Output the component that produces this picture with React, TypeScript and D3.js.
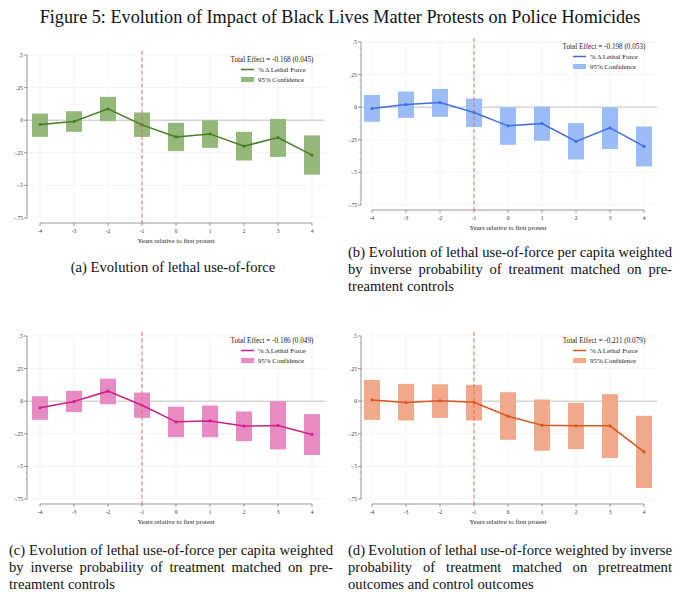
import React, { useEffect, useRef } from 'react';
import * as d3 from 'd3';

// event time
const years = [-4, -3, -2, -1, 0, 1, 2, 3, 4];
const yTicks = [0.5, 0.25, 0, -0.25, -0.5, -0.75];
const yTickLabels = ['.5', '.25', '0', '-.25', '-.5', '-.75'];

// (a) lethal use-of-force
const aCoef = [-0.033, -0.010, 0.087, -0.036, -0.128, -0.105, -0.199, -0.133, -0.268];
const aLo = [-0.128, -0.089, -0.008, -0.128, -0.237, -0.212, -0.309, -0.281, -0.418];
const aHi = [0.051, 0.069, 0.179, 0.059, -0.020, 0.000, -0.089, 0.010, -0.117];

// (b) per capita, IPW matched on pretreatment controls
const bCoef = [-0.010, 0.020, 0.036, -0.041, -0.143, -0.125, -0.263, -0.158, -0.301];
const bLo = [-0.112, -0.082, -0.074, -0.153, -0.288, -0.258, -0.401, -0.321, -0.454];
const bHi = [0.094, 0.120, 0.140, 0.066, 0.000, 0.005, -0.122, 0.000, -0.148];

// (c) per capita, IPW matched on pretreatment controls
const cCoef = [-0.051, -0.003, 0.077, -0.031, -0.158, -0.151, -0.191, -0.186, -0.255];
const cLo = [-0.143, -0.084, -0.023, -0.128, -0.276, -0.276, -0.306, -0.370, -0.413];
const cHi = [0.038, 0.079, 0.173, 0.066, -0.043, -0.033, -0.079, 0.000, -0.099];

// (d) IPW matched on pretreatment outcomes and controls
const dCoef = [0.010, -0.010, 0.003, -0.008, -0.115, -0.184, -0.189, -0.189, -0.388];
const dLo = [-0.143, -0.148, -0.128, -0.148, -0.296, -0.380, -0.367, -0.436, -0.666];
const dHi = [0.163, 0.133, 0.130, 0.125, 0.069, 0.013, -0.013, 0.054, -0.112];

const totalEffects = ['-0.168 (0.045)', '-0.198 (0.053)', '-0.186 (0.049)', '-0.211 (0.079)'];

const title = 'Figure 5: Evolution of Impact of Black Lives Matter Protests on Police Homicides';
const captionA = '(a) Evolution of lethal use-of-force';
const captionB = [
  '(b) Evolution of lethal use-of-force per capita weighted',
  'by inverse probability of treatment matched on pre-',
  'treamtent controls',
];
const captionC = [
  '(c) Evolution of lethal use-of-force per capita weighted',
  'by inverse probability of treatment matched on pre-',
  'treamtent controls',
];
const captionD = [
  '(d) Evolution of lethal use-of-force weighted by inverse',
  'probability of treatment matched on pretreatment',
  'outcomes and control outcomes',
];

const SERIF = "'Liberation Serif', 'DejaVu Serif', serif";

export default function App() {
  const ref = useRef<SVGSVGElement>(null);

  useEffect(() => {
    if (!ref.current) return;
    const svg = d3.select(ref.current);
    svg.selectAll('*').remove();

    const panels = [
      { coef: aCoef, lo: aLo, hi: aHi, te: totalEffects[0], line: '#4a7c23', fill: '#94b87a', axisX: 27, x0: 40, x1: 312, top: 55, bot: 218 },
      { coef: bCoef, lo: bLo, hi: bHi, te: totalEffects[1], line: '#3e6fe6', fill: '#9cbcf8', axisX: 361, x0: 372, x1: 644, top: 42, bot: 205 },
      { coef: cCoef, lo: cLo, hi: cHi, te: totalEffects[2], line: '#cf1f8a', fill: '#e98bc3', axisX: 27, x0: 40, x1: 312, top: 336, bot: 499 },
      { coef: dCoef, lo: dLo, hi: dHi, te: totalEffects[3], line: '#d9561f', fill: '#f2a98b', axisX: 361, x0: 372, x1: 644, top: 336, bot: 499 },
    ];

    panels.forEach(p => {
      const g = svg.append('g').style('font-family', SERIF);
      const x = d3.scaleLinear().domain([-4, 4]).range([p.x0, p.x1]);
      const y = d3.scaleLinear().domain([0.5, -0.75]).range([p.top, p.bot]);
      const right = p.x1 + 13;
      const axisY = p.bot + 5;
      const w = (x(1) - x(0)) * 0.47;

      // gridlines
      g.selectAll('.hgrid').data(yTicks).enter().append('line')
        .attr('x1', p.axisX).attr('x2', right)
        .attr('y1', d => y(d)).attr('y2', d => y(d))
        .attr('stroke', '#efefef').attr('stroke-width', 0.7);
      g.selectAll('.vgrid').data(years).enter().append('line')
        .attr('x1', d => x(d)).attr('x2', d => x(d))
        .attr('y1', p.top - 4).attr('y2', p.bot)
        .attr('stroke', '#efefef').attr('stroke-width', 0.7);

      // zero line
      g.append('line')
        .attr('x1', p.axisX).attr('x2', right)
        .attr('y1', y(0)).attr('y2', y(0))
        .attr('stroke', '#c4c4c4').attr('stroke-width', 1);

      // confidence boxes
      g.selectAll('.ci').data(years).enter().append('rect')
        .attr('x', d => x(d) - w / 2)
        .attr('width', w)
        .attr('y', (d, i) => y(p.hi[i]))
        .attr('height', (d, i) => y(p.lo[i]) - y(p.hi[i]))
        .attr('fill', p.fill);

      // coefficient line
      const line = d3.line<number>().x((d, i) => x(years[i])).y(d => y(d));
      g.append('path').datum(p.coef)
        .attr('d', line)
        .attr('fill', 'none')
        .attr('stroke', p.line)
        .attr('stroke-width', 1.5);
      g.selectAll('.pt').data(p.coef).enter().append('circle')
        .attr('cx', (d, i) => x(years[i]))
        .attr('cy', d => y(d))
        .attr('r', 1.6)
        .attr('fill', p.line);

      // protest reference line
      g.append('line')
        .attr('x1', x(-1)).attr('x2', x(-1))
        .attr('y1', p.top - 4).attr('y2', axisY)
        .attr('stroke', '#e0605e').attr('stroke-width', 0.9)
        .attr('stroke-dasharray', '4,2.5');

      // y axis
      g.append('line')
        .attr('x1', p.axisX).attr('x2', p.axisX)
        .attr('y1', y(0.5)).attr('y2', y(-0.75))
        .attr('stroke', '#555').attr('stroke-width', 0.6);
      g.selectAll('.ytick').data(yTicks).enter().append('line')
        .attr('x1', p.axisX - 3).attr('x2', p.axisX)
        .attr('y1', d => y(d)).attr('y2', d => y(d))
        .attr('stroke', '#555').attr('stroke-width', 0.6);
      g.selectAll('.yminor').data(d3.range(-0.75, 0.5, 0.05)).enter().append('line')
        .attr('x1', p.axisX - 1.5).attr('x2', p.axisX)
        .attr('y1', d => y(d)).attr('y2', d => y(d))
        .attr('stroke', '#888').attr('stroke-width', 0.4);
      g.selectAll('.ylab').data(yTicks).enter().append('text')
        .attr('x', p.axisX - 4)
        .attr('y', d => y(d) + 2)
        .attr('text-anchor', 'end')
        .attr('font-size', 5.5)
        .attr('fill', '#333')
        .text((d, i) => yTickLabels[i]);

      // x axis
      g.append('line')
        .attr('x1', p.x0).attr('x2', p.x1)
        .attr('y1', axisY).attr('y2', axisY)
        .attr('stroke', '#555').attr('stroke-width', 0.6);
      g.selectAll('.xtick').data(years).enter().append('line')
        .attr('x1', d => x(d)).attr('x2', d => x(d))
        .attr('y1', axisY).attr('y2', axisY + 3)
        .attr('stroke', '#555').attr('stroke-width', 0.6);
      g.selectAll('.xlab').data(years).enter().append('text')
        .attr('x', d => x(d))
        .attr('y', axisY + 10)
        .attr('text-anchor', 'middle')
        .attr('font-size', 5.5)
        .attr('fill', '#333')
        .text(d => String(d));
      g.append('text')
        .attr('x', (p.x0 + p.x1) / 2)
        .attr('y', axisY + 20)
        .attr('text-anchor', 'middle')
        .attr('font-size', 6.8)
        .attr('fill', '#222')
        .text('Years relative to first protest');

      // legend
      g.append('text')
        .attr('x', p.x1 - 40)
        .attr('y', p.top + 6.5)
        .attr('text-anchor', 'middle')
        .attr('font-size', 7.2)
        .attr('fill', '#222')
        .text(`Total Effect = ${p.te}`);
      g.append('line')
        .attr('x1', p.x1 - 71).attr('x2', p.x1 - 58)
        .attr('y1', p.top + 14.5).attr('y2', p.top + 14.5)
        .attr('stroke', p.line).attr('stroke-width', 1.5);
      g.append('text')
        .attr('x', p.x1 - 54)
        .attr('y', p.top + 17)
        .attr('font-size', 6.9)
        .attr('fill', '#222')
        .text('% \u0394 Lethal Force');
      g.append('rect')
        .attr('x', p.x1 - 71).attr('y', p.top + 22)
        .attr('width', 13).attr('height', 5)
        .attr('fill', p.fill);
      g.append('text')
        .attr('x', p.x1 - 54)
        .attr('y', p.top + 27)
        .attr('font-size', 6.9)
        .attr('fill', '#222')
        .text('95% Confidence');
    });

    // title, fitted to its printed width
    const t = svg.append('text')
      .attr('x', 340).attr('y', 23)
      .attr('text-anchor', 'middle')
      .style('font-family', SERIF)
      .attr('font-size', 16)
      .attr('fill', '#111')
      .text(title);
    const tw = (t.node() as SVGTextElement).getComputedTextLength();
    t.attr('font-size', 16 * 601 / tw);

    // captions
    const probe = svg.append('text').style('font-family', SERIF).attr('font-size', 14).text(captionB[0]);
    const capFs = 14 * 324 / (probe.node() as SVGTextElement).getComputedTextLength();
    probe.remove();

    svg.append('text')
      .attr('x', 173).attr('y', 272)
      .attr('text-anchor', 'middle')
      .style('font-family', SERIF)
      .attr('font-size', capFs)
      .attr('fill', '#111')
      .text(captionA);

    const block = (lines: string[], x0: number, y0: number) => {
      lines.forEach((s, i) => {
        const el = svg.append('text')
          .attr('x', x0).attr('y', y0 + i * 17)
          .style('font-family', SERIF)
          .attr('font-size', capFs)
          .attr('fill', '#111')
          .text(s);
        if (i < lines.length - 1) {
          const nat = (el.node() as SVGTextElement).getComputedTextLength();
          const gaps = s.split(' ').length - 1;
          el.attr('word-spacing', (324 - nat) / gaps);
        }
      });
    };
    block(captionB, 348, 257);
    block(captionC, 9, 555);
    block(captionD, 348, 555);
  }, []);

  return (
    <svg
      ref={ref}
      width={680}
      height={592}
      style={{ position: 'absolute', left: 0, top: 0, background: '#fff' }}
    />
  );
}
